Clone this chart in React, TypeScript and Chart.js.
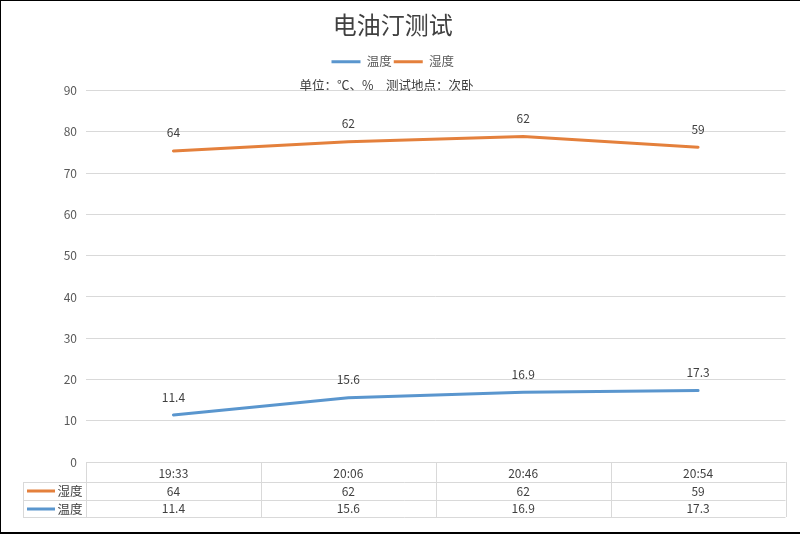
import React, { useEffect, useRef } from "react";
import { Chart, registerables } from "chart.js";

Chart.register(...registerables);

// ---- data ----
const categories = ["19:33", "20:06", "20:46", "20:54"];
const temperature = [11.4, 15.6, 16.9, 17.3];
const humidity = [64, 62, 62, 59];
const seriesNames = ["温度", "湿度"];
const yMin = 0;
const yMax = 90;
const yStep = 10;
const titleText = "电油汀测试";
const subtitleText = "单位：℃、%　测试地点：次卧　";

// ---- styles ----
const BLUE = "#5A96CE";
const ORANGE = "#E4803C";
const FONT = "'Noto Sans CJK SC', 'Noto Sans', sans-serif";
const GRID = "#D9D9D9";

const px = (v: number) => Math.round(v) + 0.5;

const backgroundPlugin = {
  id: "bg",
  beforeDraw(chart: any) {
    const { ctx, width, height } = chart;
    ctx.save();
    ctx.fillStyle = "#FFFFFF";
    ctx.fillRect(0, 0, width, height);
    ctx.restore();
  },
  afterDraw(chart: any) {
    const { ctx, width, height } = chart;
    ctx.save();
    ctx.fillStyle = "#000000";
    ctx.fillRect(0, 0, width, 1);
    ctx.fillRect(0, 0, 1, height);
    ctx.fillRect(0, height - 2, width, 2);
    ctx.restore();
  },
};

const dataLabelPlugin = {
  id: "dataLabels",
  afterDatasetsDraw(chart: any) {
    const { ctx } = chart;
    ctx.save();
    ctx.font = `12px ${FONT}`;
    ctx.fillStyle = "#404040";
    ctx.textAlign = "center";
    ctx.textBaseline = "middle";
    chart.data.datasets.forEach((ds: any, i: number) => {
      const meta = chart.getDatasetMeta(i);
      meta.data.forEach((pt: any, j: number) => {
        ctx.fillText(String(ds.data[j]), pt.x, pt.y - 18);
      });
    });
    ctx.restore();
  },
};

const tablePlugin = {
  id: "dataTable",
  afterDraw(chart: any) {
    const { ctx, chartArea } = chart;
    const x = chart.scales.x;
    const n = categories.length;
    const half = (x.getPixelForValue(1) - x.getPixelForValue(0)) / 2;
    const left = chartArea.left;
    const right = chartArea.right;
    const keyLeft = 23;
    const y0 = chartArea.bottom;
    const y1 = y0 + 20;
    const y2 = y1 + 17.5;
    const y3 = y2 + 17.5;
    const rows = [
      { name: seriesNames[1], values: humidity, color: ORANGE },
      { name: seriesNames[0], values: temperature, color: BLUE },
    ];
    ctx.save();
    ctx.strokeStyle = GRID;
    ctx.lineWidth = 1;
    const line = (ax: number, ay: number, bx: number, by: number) => {
      ctx.beginPath();
      ctx.moveTo(ax, ay);
      ctx.lineTo(bx, by);
      ctx.stroke();
    };
    line(left, px(y0), right, px(y0));
    line(keyLeft, px(y1), right, px(y1));
    line(keyLeft, px(y2), right, px(y2));
    line(keyLeft, px(y3), right, px(y3));
    for (let i = 0; i < n; i++) {
      const xb = px(x.getPixelForValue(i) - half);
      line(xb, y0, xb, y3);
    }
    line(px(right), y0, px(right), y3);
    line(px(keyLeft), y1, px(keyLeft), y3);

    ctx.font = `12px ${FONT}`;
    ctx.fillStyle = "#404040";
    ctx.textAlign = "center";
    ctx.textBaseline = "middle";
    categories.forEach((c, i) => {
      ctx.fillText(c, x.getPixelForValue(i), (y0 + y1) / 2 + 1);
    });
    rows.forEach((r, ri) => {
      const top = ri === 0 ? y1 : y2;
      const cy = top + 17.5 / 2 + 0.5;
      r.values.forEach((v, i) => {
        ctx.fillText(String(v), x.getPixelForValue(i), cy);
      });
      ctx.fillStyle = r.color;
      ctx.fillRect(27, Math.round(cy) - 1.5, 28, 3);
      ctx.fillStyle = "#404040";
      ctx.textAlign = "left";
      ctx.font = `12.5px ${FONT}`;
      ctx.fillText(r.name, 57.5, cy);
      ctx.textAlign = "center";
      ctx.font = `12px ${FONT}`;
    });
    ctx.restore();
  },
};

export default function App() {
  const ref = useRef<HTMLCanvasElement | null>(null);
  useEffect(() => {
    document.body.style.margin = "0";
    const canvas = ref.current;
    if (!canvas) return;
    const chart = new Chart(canvas, {
      type: "line",
      data: {
        labels: categories,
        datasets: [
          {
            label: seriesNames[0],
            data: temperature,
            borderColor: BLUE,
            backgroundColor: BLUE,
            borderWidth: 3,
            pointRadius: 0,
            tension: 0,
            fill: false,
            borderCapStyle: "round",
          },
          {
            label: seriesNames[1],
            data: humidity,
            borderColor: ORANGE,
            backgroundColor: ORANGE,
            borderWidth: 3,
            pointRadius: 0,
            tension: 0,
            fill: false,
            borderCapStyle: "round",
          },
        ],
      },
      options: {
        responsive: false,
        animation: false,
        devicePixelRatio: 1,
        layout: { padding: { left: 0, right: 14.5, top: 0, bottom: 16 } },
        plugins: {
          tooltip: { enabled: false },
          title: {
            display: true,
            text: titleText,
            color: "#404040",
            font: { family: FONT, size: 24, weight: "normal", lineHeight: 1.2 },
            padding: { top: 10.6, bottom: 14 },
            weight: 2000,
          },
          legend: {
            display: true,
            position: "top",
            weight: 1800,
            labels: {
              boxWidth: 29,
              boxHeight: 3,
              padding: 2,
              color: "#595959",
              font: { family: FONT, size: 12.5 },
              generateLabels: (c: any) =>
                (Chart.defaults.plugins.legend.labels as any)
                  .generateLabels(c)
                  .map((l: any) => ({ ...l, lineWidth: 0 })),
            },
          },
          subtitle: {
            display: true,
            text: subtitleText,
            color: "#404040",
            weight: 1500,
            font: { family: FONT, size: 12.5, weight: "normal", lineHeight: 1.2 },
            padding: { top: 0.25, bottom: -2.5 },
          },
        },
        scales: {
          x: {
            type: "category",
            offset: true,
            grid: { display: false },
            border: { display: false },
            ticks: { display: false },
            afterFit: (s: any) => {
              s.height = 56;
            },
          },
          y: {
            stacked: true,
            min: yMin,
            max: yMax,
            border: { display: false },
            grid: { color: GRID, drawTicks: false, lineWidth: 1 },
            ticks: {
              stepSize: yStep,
              padding: 9,
              color: "#595959",
              font: { family: FONT, size: 12 },
            },
            afterFit: (s: any) => {
              s.width = 86;
            },
          },
        },
      },
      plugins: [backgroundPlugin, dataLabelPlugin, tablePlugin],
    } as any);
    return () => chart.destroy();
  }, []);
  return (
    <div style={{ width: 800, height: 534 }}>
      <canvas ref={ref} width={800} height={534} style={{ display: "block", width: 800, height: 534 }} />
    </div>
  );
}
